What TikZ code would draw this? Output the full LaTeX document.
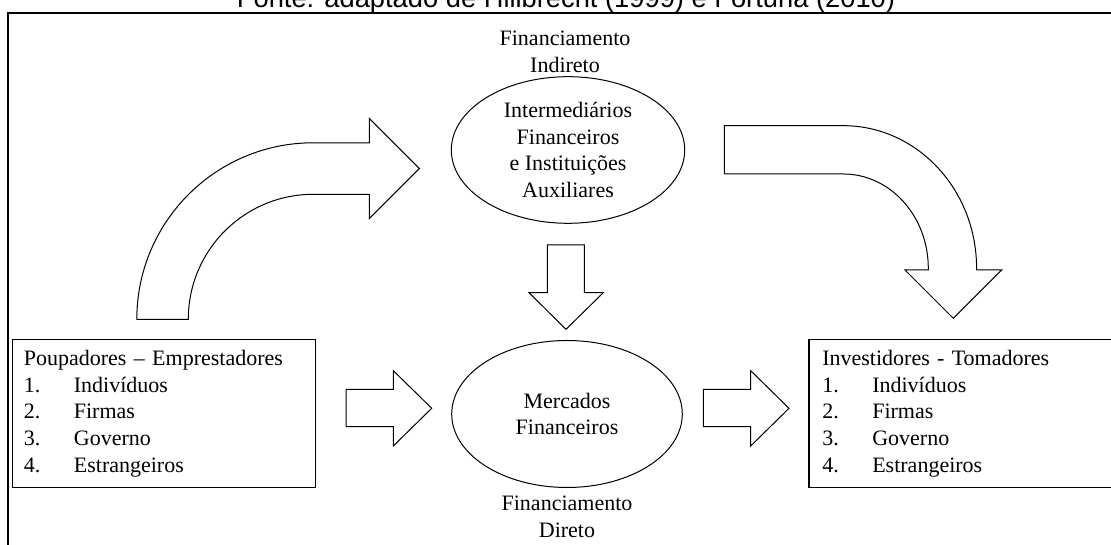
\documentclass[tikz,border=0pt]{standalone}
\usepackage{fontspec}
\setmainfont{Liberation Serif}
\newfontfamily\hdrfont{Liberation Sans}
\usetikzlibrary{shapes.geometric}
\tikzset{
  txt/.style={font=\fontsize{22}{26.7}\selectfont, align=center, inner sep=0pt},
  ell/.style={draw, ellipse, line width=1pt, inner sep=0pt, font=\fontsize{22}{26.7}\selectfont, align=center},
  listbox/.style={draw, line width=1.2pt, rectangle, anchor=north west, font=\fontsize{22}{26.7}\selectfont, align=left, inner ysep=0pt},
  blockarrow/.style={draw, line width=1pt, fill=white, line join=miter},
  frameline/.style={draw, line width=2pt}
}
\newcommand{\itm}[2]{\makebox[50pt][l]{#1}#2}
\begin{document}
\begin{tikzpicture}[x=1pt,y=1pt]
\useasboundingbox (0,0) rectangle (1111,545);
\clip (0,0) rectangle (1111,545);
% header (cut off at the top)
\node[font=\hdrfont\fontsize{27.3}{32}\selectfont, anchor=base, inner sep=0pt] (src) at (566,537.7) {Fonte: adaptado de Hillbrecht (1999) e Fortuna (2010)};
% outer frame
\draw[frameline] (8,-20) -- (8,532) -- (1130,532);
% labels
\node[txt] (indlab) at (565,493.5) {Financiamento\\Indireto};
\node[txt] (dirlab) at (567,28) {Financiamento\\Direto};
% ellipses
\node[ell, minimum width=233.4pt, minimum height=146.6pt] (inter) at (568,395) {Intermedi\'arios\\Financeiros\\e Institui\c{c}\~oes\\Auxiliares};
\node[ell, minimum width=230.6pt, minimum height=147pt] (merc) at (567,131) {Mercados\\Financeiros};
% boxes
\node[listbox, minimum width=303.3pt, minimum height=147.4pt, text width=280.1pt, inner xsep=11.6pt] (poup) at (11.7,205.7)
  {Poupadores -- Emprestadores\\\itm{1.}{Indiv\'iduos}\\\itm{2.}{Firmas}\\\itm{3.}{Governo}\\\itm{4.}{Estrangeiros}};
\node[listbox, minimum width=310pt, minimum height=147.4pt, text width=283.2pt, inner xsep=13.4pt] (inv) at (808.3,205.7)
  {Investidores - Tomadores\\\itm{1.}{Indiv\'iduos}\\\itm{2.}{Firmas}\\\itm{3.}{Governo}\\\itm{4.}{Estrangeiros}};
% curved arrow: savers -> intermediaries
\draw[blockarrow] (136.8,225.7) arc[start angle=180, end angle=90, radius=176.5]
  -- (369.3,402.2) -- (369.3,426.5) -- (419.3,376.5) -- (369.3,326.5) -- (369.3,350.7)
  -- (313.3,350.7) arc[start angle=90, end angle=180, radius=125] -- cycle;
% curved arrow: intermediaries -> investors
\draw[blockarrow] (724.3,419.3) -- (843.3,419.3)
  arc[start angle=90, end angle=0, x radius=133.3, y radius=142.6]
  -- (976.6,275) -- (1001.7,275) -- (953.3,226.7) -- (905,275) -- (928.3,275) -- (928.3,276.7)
  arc[start angle=0, end angle=90, x radius=85, y radius=94.3] -- (724.3,371) -- cycle;
% down arrow: intermediaries -> markets
\draw[blockarrow] (547.3,300) -- (584.3,300) -- (584.3,252.3) -- (603.3,252.3) -- (566,215.7)
  -- (529,252.3) -- (547.3,252.3) -- cycle;
% right arrows
\draw[blockarrow] (346,155.7) -- (393.3,155.7) -- (393.3,174.3) -- (431.7,136.7) -- (393.3,99)
  -- (393.3,118.3) -- (346,118.3) -- cycle;
\draw[blockarrow] (703.3,155.7) -- (750.7,155.7) -- (750.7,174.3) -- (789,136.7) -- (750.7,99)
  -- (750.7,118.3) -- (703.3,118.3) -- cycle;
\end{tikzpicture}
\end{document}
